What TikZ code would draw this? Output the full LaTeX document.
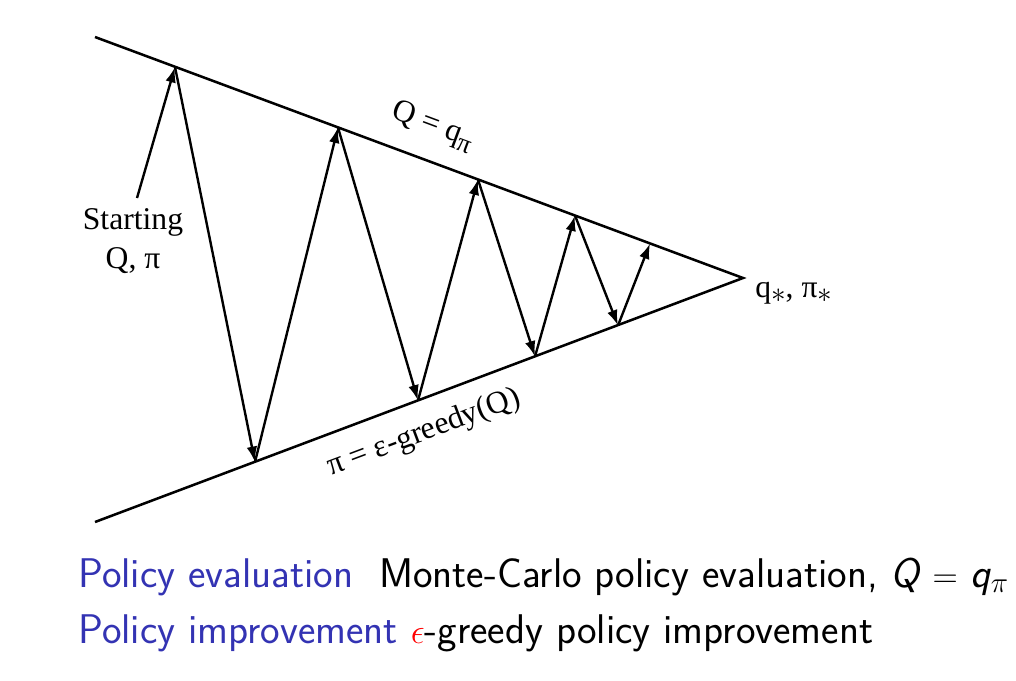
\documentclass[tikz,border=0pt]{standalone}
\usepackage{fontspec}
\newfontfamily\tnr{Liberation Serif}
\usetikzlibrary{arrows.meta}
\definecolor{struct}{RGB}{51,51,179}
\begin{document}
\begin{tikzpicture}[x=0.025cm,y=-0.025cm,
  edge/.style={line width=1.8pt},
  arr/.style={line width=1.7pt,-{Latex[length=11pt,width=7.5pt]}},
  lbl/.style={font=\tnr\fontsize{22.5}{28}\selectfont,inner sep=0pt},
  bot/.style={font=\sffamily\fontsize{29.5}{34}\selectfont,inner sep=0pt,anchor=base west}]
\useasboundingbox (0,0) rectangle (1016,680);
\coordinate (L1) at (95,37);
\coordinate (L2) at (95,522);
\coordinate (A) at (743,278);
\coordinate (t1) at (175,67);
\coordinate (t2) at (338,127.5);
\coordinate (t3) at (478,179.5);
\coordinate (t4) at (575,215.5);
\coordinate (t5) at (650,243.5);
\coordinate (b1) at (255,462);
\coordinate (b2) at (418,400.5);
\coordinate (b3) at (535,356.5);
\coordinate (b4) at (618,325.5);
\coordinate (s0) at (137,198);
\draw[edge] (L1) -- (A) -- (L2);
\node[lbl,align=center] (start) at (133,241) {Starting\\Q, π};
\draw[arr] (s0) -- (t1);
\draw[arr] (t1) -- (b1);
\draw[arr] (b1) -- (t2);
\draw[arr] (t2) -- (b2);
\draw[arr] (b2) -- (t3);
\draw[arr] (t3) -- (b3);
\draw[arr] (b3) -- (t4);
\draw[arr] (t4) -- (b4);
\draw[arr] (b4) -- (t5);
\node[lbl,rotate=-20.4] (qpi) at (433,126) {Q = q\raisebox{-5pt}{\fontsize{19}{19}\selectfont π}};
\node[lbl,rotate=20.6] (greedy) at (424,433) {π = ε-greedy(Q)};
\node[lbl,anchor=base west] (star) at (755,297) {q\raisebox{-4pt}{$\ast$}, π\raisebox{-4pt}{$\ast$}};
\node[bot] (pe) at (78,587) {\color{struct}Policy evaluation\ \ \color{black}Monte-Carlo policy evaluation, {\itshape Q} $=$ {\itshape q}$_\pi$};
\node[bot] (pi) at (78,643) {\color{struct}Policy improvement\ \color{red}$\epsilon$\color{black}-greedy policy improvement};
\end{tikzpicture}
\end{document}
